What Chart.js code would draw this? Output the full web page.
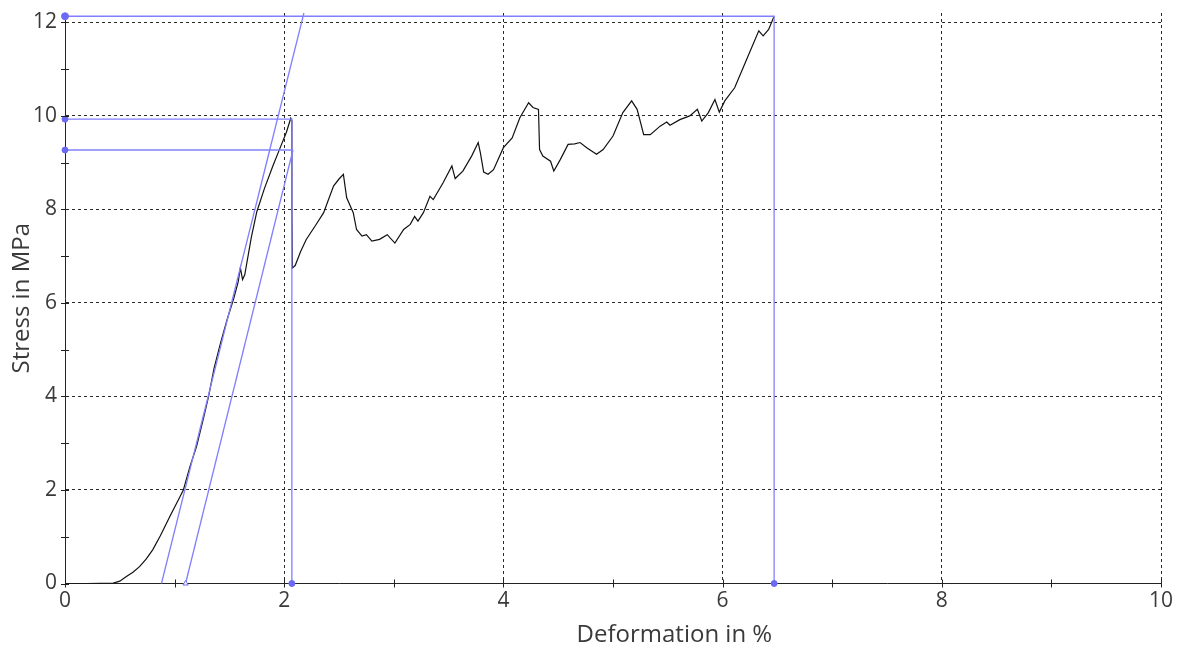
<!DOCTYPE html>
<html>
<head>
<meta charset="utf-8">
<script src="https://cdn.jsdelivr.net/npm/chart.js@4.4.1/dist/chart.umd.min.js"></script>
<style>
  html, body { margin: 0; padding: 0; background: #fff; }
  #wrap { width: 1187px; height: 649px; position: relative; }
</style>
</head>
<body>
<div id="wrap"><canvas id="chart-canvas"></canvas></div>
<script>
// ### colors ###
const BLUE = "#8080ff";
const BLUE_DOT = "#6a6af5";
const BLACK = "#111111";
const GRID = "#2a2a2a";
const TEXT = "#3a3a3a";

// ### axis ###
const X_MIN = 0;
const X_MAX = 10;
const Y_MIN = 0;
const Y_MAX = 12.2;
const xTickValues = [0, 2, 4, 6, 8, 10];
const yTickValues = [0, 2, 4, 6, 8, 10, 12];
const xTitle = "Deformation in %";
const yTitle = "Stress in MPa";

// ### measured curve ###
const deformation = [
  0, 0.2, 0.44, 0.5, 0.56, 0.62, 0.68, 0.74, 0.8, 0.87, 0.96, 1.05, 1.08, 1.14,
  1.2, 1.26, 1.31, 1.36, 1.42, 1.48, 1.54, 1.58, 1.6, 1.62, 1.64, 1.7, 1.75,
  1.82, 1.9, 1.96, 2.02, 2.06, 2.07, 2.07, 2.075, 2.1, 2.15, 2.2, 2.3, 2.36,
  2.45, 2.5, 2.54, 2.57, 2.63, 2.66, 2.71, 2.75, 2.8, 2.87, 2.94, 3.01, 3.09,
  3.15, 3.19, 3.22, 3.27, 3.33, 3.36, 3.45, 3.53, 3.56, 3.63, 3.71, 3.77, 3.79,
  3.82, 3.86, 3.91, 4.0, 4.08, 4.15, 4.23, 4.27, 4.32, 4.33, 4.36, 4.43, 4.46,
  4.52, 4.59, 4.65, 4.7, 4.76, 4.85, 4.91, 5.0, 5.09, 5.17, 5.22, 5.28, 5.34,
  5.43, 5.49, 5.52, 5.61, 5.7, 5.77, 5.81, 5.87, 5.93, 5.97, 6.02, 6.11, 6.22,
  6.33, 6.37, 6.42, 6.47,
];
const stress = [
  0, 0, 0.01, 0.05, 0.15, 0.24, 0.36, 0.52, 0.72, 1.02, 1.45, 1.86, 2.0, 2.5,
  2.93, 3.5, 4.0, 4.6, 5.15, 5.65, 6.1, 6.45, 6.75, 6.5, 6.6, 7.4, 7.95,
  8.45, 8.95, 9.3, 9.65, 9.95, 9.9, 8.0, 6.75, 6.8, 7.1, 7.35, 7.71, 7.93,
  8.5, 8.65, 8.75, 8.25, 7.93, 7.57, 7.43, 7.46, 7.32, 7.36, 7.46, 7.28, 7.57,
  7.68, 7.85, 7.75, 7.93, 8.28, 8.21, 8.57, 8.93, 8.66, 8.82, 9.14, 9.43, 9.21,
  8.8, 8.75, 8.85, 9.32, 9.53, 9.96, 10.28, 10.18, 10.14, 9.28, 9.14, 9.03, 8.82,
  9.07, 9.39, 9.4, 9.43, 9.32, 9.18, 9.28, 9.57, 10.07, 10.32, 10.14, 9.6, 9.6,
  9.78, 9.87, 9.8, 9.92, 10.0, 10.14, 9.89, 10.07, 10.35, 10.08, 10.32, 10.6, 11.21,
  11.82, 11.71, 11.85, 12.13,
];

// ### evaluation lines ###
const modulusLineX = [0.88, 2.18];
const modulusLineY = [0, 12.2];
const offsetLineX = [1.1, 2.08];
const offsetLineY = [0, 9.27];
const yieldLineX = [0, 2.08];
const yieldLineY = [9.27, 9.27];
const peakLineX = [0, 2.07, 2.07];
const peakLineY = [9.93, 9.93, 0];
const maxLineX = [0, 6.47, 6.47];
const maxLineY = [12.13, 12.13, 0];

function toPoints(xs, ys) {
  return xs.map((x, i) => ({ x: x, y: ys[i] }));
}

function blueLine(xs, ys, radii, style) {
  return {
    data: toPoints(xs, ys),
    showLine: true,
    borderColor: BLUE,
    borderWidth: 1.3,
    pointRadius: radii,
    pointStyle: style || "circle",
    pointBackgroundColor: style === "triangle" ? "#ffffff" : BLUE_DOT,
    pointBorderColor: BLUE_DOT,
    pointBorderWidth: 1,
    tension: 0,
    clip: false,
  };
}

// ### axis decorations (minor ticks + titles) ###
const axisDecor = {
  id: "axisDecor",
  afterDraw(chart) {
    const { ctx, chartArea } = chart;
    const x = chart.scales.x;
    const y = chart.scales.y;
    ctx.save();
    ctx.strokeStyle = "#222222";
    ctx.lineWidth = 1;
    ctx.beginPath();
    for (let v = X_MIN; v <= X_MAX; v++) {
      const px = Math.round(x.getPixelForValue(v)) + 0.5;
      ctx.moveTo(px, chartArea.bottom - 4);
      ctx.lineTo(px, chartArea.bottom + 4);
    }
    for (let v = 0; v <= 12; v++) {
      const py = Math.round(y.getPixelForValue(v)) + 0.5;
      ctx.moveTo(chartArea.left - 4, py);
      ctx.lineTo(chartArea.left + 4, py);
    }
    ctx.stroke();

    ctx.fillStyle = TEXT;
    ctx.font = '24px "Open Sans"';
    ctx.textAlign = "center";
    ctx.textBaseline = "middle";
    ctx.fillText(xTitle, chartArea.left + chartArea.width * 0.556, chart.height - 14);

    ctx.translate(22, (chartArea.top + chartArea.bottom) / 2);
    ctx.rotate(-Math.PI / 2);
    ctx.fillText(yTitle, 0, 0);
    ctx.restore();
  },
};

function noEdgePadding(scale) {
  scale.paddingTop = 0;
  scale.paddingBottom = 0;
  scale.paddingLeft = 0;
  scale.paddingRight = 0;
}

// ### render ###
function renderChart() {
  const chartCanvas = document.getElementById("chart-canvas");
  new Chart(chartCanvas, {
    type: "scatter",
    data: {
      datasets: [
        blueLine(maxLineX, maxLineY, [3.5, 0, 3]),
        blueLine(peakLineX, peakLineY, [3, 0, 3]),
        blueLine(yieldLineX, yieldLineY, [3, 0]),
        blueLine(modulusLineX, modulusLineY, [0, 0]),
        blueLine(offsetLineX, offsetLineY, [3, 0], "triangle"),
        {
          data: toPoints(deformation, stress),
          showLine: true,
          borderColor: BLACK,
          borderWidth: 1.2,
          pointRadius: 0,
          tension: 0,
        },
      ],
    },
    options: {
      responsive: true,
      maintainAspectRatio: false,
      animation: false,
      devicePixelRatio: 1,
      events: [],
      layout: {
        padding: { top: 13, right: 26, left: 0, bottom: 0 },
      },
      plugins: {
        legend: { display: false },
        tooltip: { enabled: false },
      },
      scales: {
        x: {
          type: "linear",
          min: X_MIN,
          max: X_MAX,
          afterBuildTicks: (scale) => {
            scale.ticks = xTickValues.map((v) => ({ value: v }));
          },
          afterFit: (scale) => {
            scale.height = 65.5;
            noEdgePadding(scale);
          },
          grid: {
            color: (c) => (c.tick && c.tick.value === 0 ? "rgba(0,0,0,0)" : GRID),
            lineWidth: 1,
            drawTicks: false,
          },
          border: { display: true, color: "#222222", width: 1, dash: [3, 3] },
          ticks: {
            color: TEXT,
            font: { family: "Open Sans", size: 21 },
            padding: 5,
            maxRotation: 0,
          },
        },
        y: {
          type: "linear",
          min: Y_MIN,
          max: Y_MAX,
          afterBuildTicks: (scale) => {
            scale.ticks = yTickValues.map((v) => ({ value: v }));
          },
          afterFit: (scale) => {
            scale.width = 65;
            noEdgePadding(scale);
          },
          grid: {
            color: (c) => (c.tick && c.tick.value === 0 ? "rgba(0,0,0,0)" : GRID),
            lineWidth: 1,
            drawTicks: false,
          },
          border: { display: true, color: "#222222", width: 1, dash: [3, 3] },
          ticks: {
            color: TEXT,
            font: { family: "Open Sans", size: 21 },
            padding: 8,
          },
        },
      },
    },
    plugins: [axisDecor],
  });
}

renderChart();
</script>
</body>
</html>
